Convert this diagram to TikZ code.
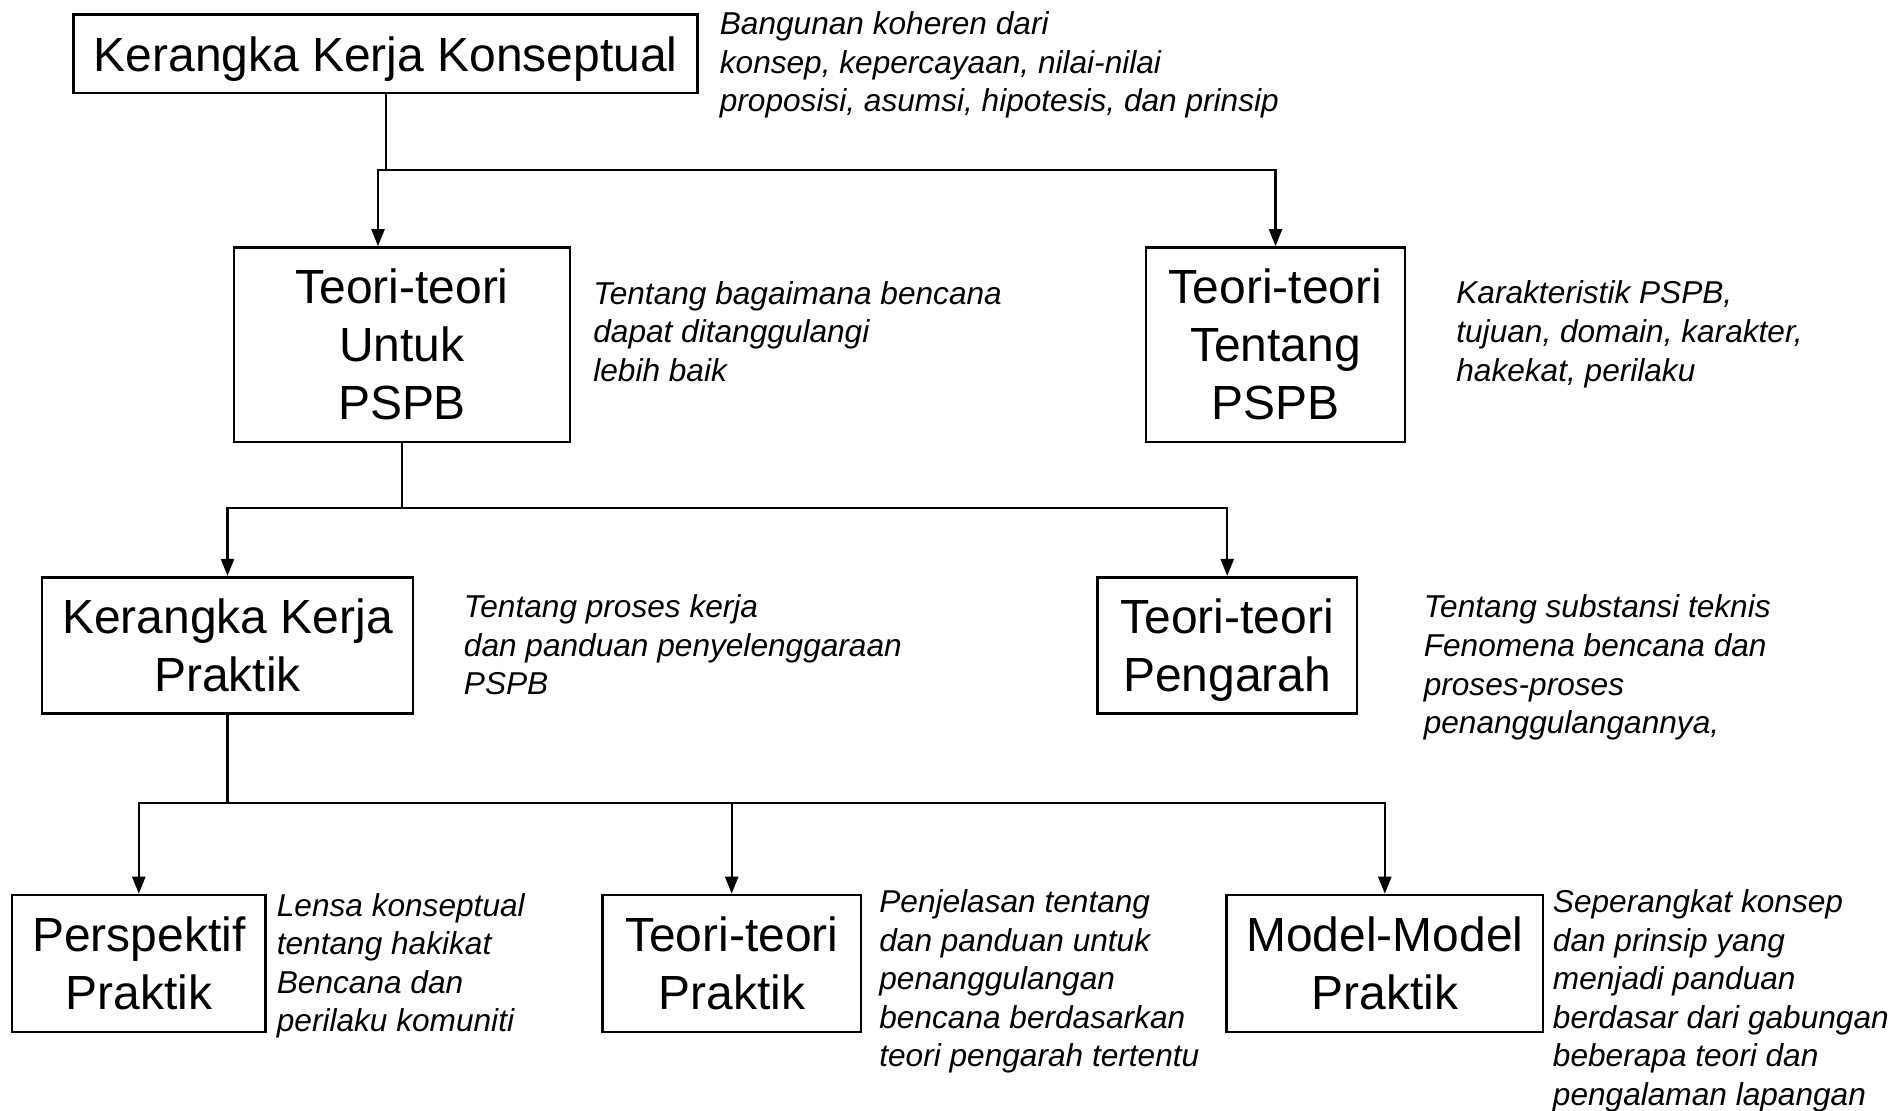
\documentclass[tikz,border=0pt]{standalone}
\usepackage{fontspec}
\setmainfont{Liberation Sans}
\usetikzlibrary{arrows.meta,calc}

\begin{document}
\begin{tikzpicture}[
  x=0.02cm, y=-0.02cm,
  box/.style={
    draw,
    line width=1.5pt,
    inner sep=0pt,
    align=center,
    font=\fontsize{27.3}{33}\selectfont
  },
  note/.style={
    anchor=west,
    inner sep=0pt,
    align=left,
    font=\fontsize{18}{22}\selectfont\itshape
  },
  link/.style={line width=1.3pt},
  arr/.style={line width=1.3pt,-{Triangle[length=0.34cm,width=0.26cm]}}
]
  \useasboundingbox[fill=white] (0,0) rectangle (1893,1111);

  % boxes
  \node[box,text depth=0pt,minimum width=12.48cm,minimum height=1.57cm] (kkk) at (385.7,53.75)
    {Kerangka Kerja Konseptual};
  \node[box,minimum width=6.72cm,minimum height=3.89cm] (tu) at (402,344.75)
    {Teori-teori\\Untuk\\PSPB};
  \node[box,minimum width=5.18cm,minimum height=3.89cm] (tt) at (1275.5,344.75)
    {Teori-teori\\Tentang\\PSPB};
  \node[box,minimum width=7.42cm,minimum height=2.73cm] (kkp) at (227.5,645.5)
    {Kerangka Kerja\\Praktik};
  \node[box,text depth=0pt,minimum width=5.19cm,minimum height=2.73cm] (tp) at (1227.2,645.5)
    {Teori-teori\\Pengarah};
  \node[box,minimum width=5.07cm,minimum height=2.74cm] (pp) at (138.8,963.5)
    {Perspektif\\Praktik};
  \node[box,minimum width=5.17cm,minimum height=2.74cm] (tpr) at (731.7,963.5)
    {Teori-teori\\Praktik};
  \node[box,minimum width=6.33cm,minimum height=2.74cm] (mm) at (1384.8,963.5)
    {Model-Model\\Praktik};

  % notes
  \node[note] (dkkk) at (719.5,65)
    {Bangunan koheren dari\\konsep, kepercayaan, nilai-nilai\\proposisi, asumsi, hipotesis, dan prinsip};
  \node[note] (dtu) at (593,331.5)
    {Tentang bagaimana bencana\\dapat ditanggulangi\\lebih baik};
  \node[note] (dtt) at (1456,334.4)
    {Karakteristik PSPB,\\tujuan, domain, karakter,\\hakekat, perilaku};
  \node[note] (dkkp) at (463.6,645)
    {Tentang proses kerja\\dan panduan penyelenggaraan\\PSPB};
  \node[note] (dtp) at (1423.4,667.6)
    {Tentang substansi teknis\\Fenomena bencana dan\\proses-proses\\penanggulangannya,};
  \node[note] (dpp) at (276.5,965.8)
    {Lensa konseptual\\tentang hakikat\\Bencana dan\\perilaku komuniti};
  \node[note] (dtpr) at (879,981.5)
    {Penjelasan tentang\\dan panduan untuk\\penanggulangan\\bencana berdasarkan\\teori pengarah tertentu};
  \node[note] (dmm) at (1552.6,1000.8)
    {Seperangkat konsep\\dan prinsip yang\\menjadi panduan\\berdasar dari gabungan\\beberapa teori dan\\pengalaman lapangan};

  % connectors
  \coordinate (j1) at (385.7,170);
  \coordinate (j2) at (402,508);
  \coordinate (j3) at (227.5,803);

  \draw[link] (kkk.south) -- (j1);
  \draw[arr] (j1) -| ([xshift=-0.48cm]tu.north);
  \draw[arr] (j1) -| (tt.north);

  \draw[link] (tu.south) -- (j2);
  \draw[arr] (j2) -| (kkp.north);
  \draw[arr] (j2) -| (tp.north);

  \draw[link] (kkp.south) -- (j3);
  \draw[arr] (j3) -| (pp.north);
  \draw[arr] (j3) -| (tpr.north);
  \draw[arr] (j3) -| (mm.north);
\end{tikzpicture}
\end{document}
